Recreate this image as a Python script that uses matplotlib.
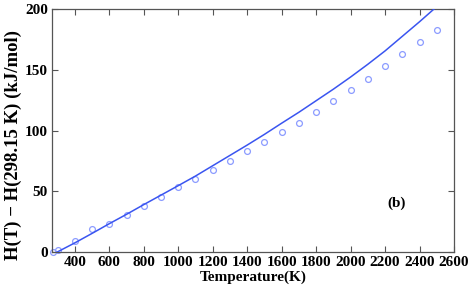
import matplotlib
matplotlib.use("Agg")
import matplotlib.pyplot as plt

# Calculated curve (solid line)
line_T = [298.15, 400, 500, 600, 700, 800, 900, 1000, 1100, 1200, 1300, 1400,
          1500, 1600, 1700, 1800, 1900, 2000, 2100, 2200, 2300, 2400, 2500]
line_H = [0, 7.5, 15.3, 23.3, 31, 39, 46.8, 54.6, 62.5, 71, 79.5, 88,
          96.8, 106, 115, 124.5, 134, 144, 154.5, 165.5, 177.5, 189.5, 202]

# Reference data (open circles)
pts_T = [273, 300, 400, 500, 600, 700, 800, 900, 1000, 1100, 1200, 1300, 1400,
         1500, 1600, 1700, 1800, 1900, 2000, 2100, 2200, 2300, 2400, 2500]
pts_H = [0, 2, 9.2, 19.1, 23, 30.5, 38.2, 45.6, 53.1, 60, 67.6, 75.2, 83,
         90.6, 98.6, 106.5, 115.1, 124.2, 133.2, 142.4, 153, 162.8, 173.1, 182.9]

xticks = [400, 600, 800, 1000, 1200, 1400, 1600, 1800, 2000, 2200, 2400, 2600]
yticks = [0, 50, 100, 150, 200]

plt.rcParams['font.family'] = ['Liberation Serif', 'DejaVu Serif']
plt.rcParams['font.weight'] = 'bold'

fig = plt.figure(figsize=(4.69, 3.0), dpi=100)
ax = fig.add_axes([0.111, 0.16, 0.857, 0.81])

ax.plot(line_T, line_H, color='#3a55f0', lw=1.1, zorder=3)
ax.plot(pts_T, pts_H, linestyle='none', marker='o', markersize=4.2,
        markerfacecolor='none', markeredgecolor='#8c9cff', markeredgewidth=0.9,
        zorder=2, clip_on=False)

ax.set_xlim(268, 2600)
ax.set_ylim(0, 200)
ax.set_xticks(xticks)
ax.set_yticks(yticks)
ax.tick_params(direction='in', length=4, width=0.8, color='#555555',
               top=True, right=True, labelsize=11, pad=3)
for lab in ax.get_xticklabels() + ax.get_yticklabels():
    lab.set_fontweight('bold')
for s in ax.spines.values():
    s.set_color('#555555')
    s.set_linewidth(0.9)

ax.set_xlabel('Temperature(K)', fontsize=11, fontweight='bold', labelpad=1)
ax.set_ylabel('H(T) \u2212 H(298.15 K) (kJ/mol)', fontsize=13.5,
              fontweight='bold')
ax.yaxis.set_label_coords(-0.075, 0.44)
ax.text(2265, 40, '(b)', fontsize=11, fontweight='bold', ha='center', va='center')

fig.savefig('out.png', dpi=100)
